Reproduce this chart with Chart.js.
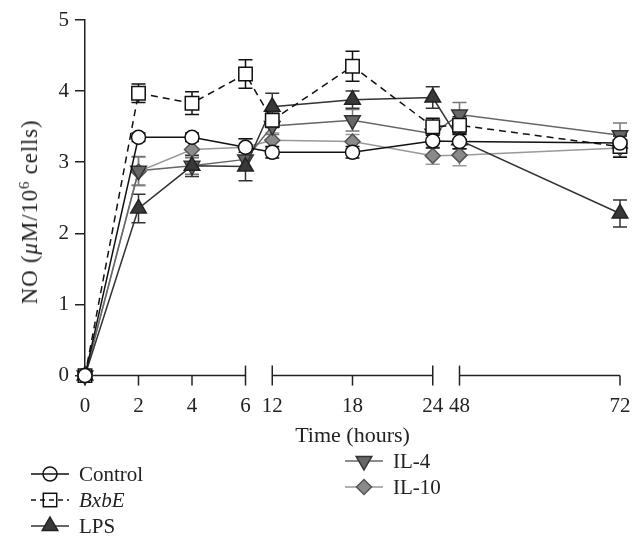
<!DOCTYPE html>
<html><head><meta charset="utf-8">
<script src="https://cdn.jsdelivr.net/npm/chart.js@4"></script>
<style>
html,body{margin:0;padding:0;background:#fff;}
#wrap{position:relative;width:643px;height:551px;overflow:hidden;font-family:"Liberation Serif",serif;color:#222;}
canvas{position:absolute;left:0;top:0;}
#ytitle{position:absolute;left:30px;top:212px;transform:translate(-50%,-50%) rotate(-90deg);white-space:nowrap;font-size:23px;line-height:26px;letter-spacing:0.8px;}
#ytitle sup{font-size:15px;line-height:0;vertical-align:8px;}
.leg{position:absolute;font-size:21px;white-space:nowrap;display:flex;align-items:center;height:26px;}
.leg svg{margin-right:9px;}
</style></head>
<body><div id="wrap"><canvas id="c" width="643" height="551"></canvas>
<div id="ytitle">NO (<i>μ</i>M/10<sup>6</sup> cells)</div>
<div id="legend"></div>
</div>
<script>
// ---- data ----
const times = [0, 2, 4, 6, 12, 18, 24, 48, 72];
const xTicks = [0, 2, 4, 6, 12, 18, 24, 48, 72];
const axisSegments = [[0, 6], [12, 24], [48, 72]];
const breakTicks = [6, 12, 24, 48];
const yTicks = [0, 1, 2, 3, 4, 5];

const seriesNames = ['Control', 'BxbE', 'LPS', 'IL-4', 'IL-10'];
const control   = [0, 3.35, 3.35, 3.21, 3.14, 3.14, 3.30, 3.29, 3.27];
const controlErr= [0, 0.06, 0.06, 0.12, 0.08, 0.08, 0.10, 0.10, 0.12];
const bxbe      = [0, 3.97, 3.83, 4.24, 3.59, 4.35, 3.50, 3.52, 3.22];
const bxbeErr   = [0, 0.13, 0.16, 0.20, 0.10, 0.21, 0.12, 0.12, 0.15];
const lps       = [0, 2.35, 2.95, 2.94, 3.78, 3.88, 3.91, 3.31, 2.28];
const lpsErr    = [0, 0.20, 0.15, 0.20, 0.19, 0.12, 0.15, 0.12, 0.19];
const il4       = [0, 2.88, 2.95, 3.04, 3.51, 3.59, 3.40, 3.67, 3.38];
const il4Err    = [0, 0.20, 0.12, 0.15, 0.12, 0.15, 0.12, 0.17, 0.17];
const il10      = [0, 2.87, 3.18, 3.21, 3.31, 3.29, 3.09, 3.10, 3.20];
const il10Err   = [0, 0.20, 0.12, 0.12, 0.10, 0.10, 0.12, 0.15, 0.12];

// ---- broken time axis mapping ----
const toAxis = t => t <= 6 ? t : (t <= 24 ? 7 + (t - 12) / 2 : 14 + (t - 48) / 4);

const FONT = {family: 'Liberation Serif', size: 21};
const styles = [
  {line:'#111', fill:'#fff', border:'#111', style:'circle', r:7, rot:0, dash:[], err:'#111'},
  {line:'#111', fill:'#fff', border:'#111', style:'rect', r:9.5, rot:0, dash:[7,5], err:'#111'},
  {line:'#333', fill:'#383838', border:'#222', style:'triangle', r:9, rot:0, dash:[], err:'#333'},
  {line:'#666', fill:'#676767', border:'#333', style:'triangle', r:9, rot:180, dash:[], err:'#777'},
  {line:'#999', fill:'#8a8a8a', border:'#555', style:'rectRot', r:7.5, rot:0, dash:[], err:'#999'}
];
const values = [control, bxbe, lps, il4, il10];
const errs = [controlErr, bxbeErr, lpsErr, il4Err, il10Err];

const datasets = seriesNames.map((n, i) => ({
  label: n,
  data: times.map((t, j) => ({x: toAxis(t), y: values[i][j]})),
  borderColor: styles[i].line,
  borderWidth: 1.5,
  borderDash: styles[i].dash,
  pointStyle: styles[i].style,
  pointRadius: styles[i].r,
  pointHoverRadius: styles[i].r,
  pointRotation: styles[i].rot,
  pointBackgroundColor: styles[i].fill,
  pointBorderColor: styles[i].border,
  pointBorderWidth: 1.5,
  tension: 0, fill: false, clip: false
}));

const errorBars = {
  id: 'errorBars',
  beforeDatasetsDraw(chart) {
    const {ctx, scales: {x, y}} = chart;
    for (let di = datasets.length - 1; di >= 0; di--) {
      ctx.save();
      ctx.strokeStyle = styles[di].err;
      ctx.lineWidth = 1.5;
      times.forEach((t, i) => {
        const e = errs[di][i];
        if (!e) return;
        const px = x.getPixelForValue(toAxis(t));
        const top = y.getPixelForValue(values[di][i] + e);
        const bot = y.getPixelForValue(values[di][i] - e);
        ctx.beginPath();
        ctx.moveTo(px, top); ctx.lineTo(px, bot);
        ctx.moveTo(px - 7, top); ctx.lineTo(px + 7, top);
        ctx.moveTo(px - 7, bot); ctx.lineTo(px + 7, bot);
        ctx.stroke();
      });
      ctx.restore();
    }
  }
};

const brokenAxis = {
  id: 'brokenAxis',
  beforeDatasetsDraw(chart) {
    const {ctx, scales: {x, y}} = chart;
    const yb = y.getPixelForValue(0);
    ctx.save();
    ctx.strokeStyle = '#222';
    ctx.lineWidth = 1.5;
    axisSegments.forEach(([a, b]) => {
      ctx.beginPath();
      ctx.moveTo(x.getPixelForValue(toAxis(a)), yb);
      ctx.lineTo(x.getPixelForValue(toAxis(b)), yb);
      ctx.stroke();
    });
    xTicks.forEach(t => {
      const px = x.getPixelForValue(toAxis(t));
      ctx.beginPath();
      ctx.moveTo(px, breakTicks.includes(t) ? yb - 10 : yb);
      ctx.lineTo(px, yb + 10);
      ctx.stroke();
    });
    ctx.restore();
  }
};

new Chart(document.getElementById('c'), {
  type: 'line',
  data: {datasets},
  options: {
    responsive: false,
    animation: false,
    events: [],
    layout: {padding: {top: 20, right: 23, bottom: 95.4, left: 0}, autoPadding: false},
    plugins: {legend: {display: false}, tooltip: {enabled: false}},
    scales: {
      x: {
        type: 'linear', min: 0, max: 20,
        afterBuildTicks: s => { s.ticks = xTicks.map(t => ({value: toAxis(t)})); },
        afterFit: s => { s.height = 80; s.paddingLeft = 0; s.paddingRight = 0; },
        ticks: {callback: (v, i) => String(xTicks[i]), font: FONT, color: '#222', padding: 18, maxRotation: 0, autoSkip: false},
        grid: {display: false, drawTicks: false},
        border: {display: false},
        title: {display: true, text: 'Time (hours)', font: {family: 'Liberation Serif', size: 22}, color: '#222', padding: {top: 0, bottom: 6}}
      },
      y: {
        min: 0, max: 5,
        afterBuildTicks: s => { s.ticks = yTicks.map(v => ({value: v})); },
        afterFit: s => { s.width = 85; s.paddingTop = 0; s.paddingBottom = 0; },
        ticks: {font: FONT, color: '#222', padding: 6},
        grid: {drawOnChartArea: false, drawTicks: true, tickLength: 10, color: '#222', lineWidth: 1.5},
        border: {display: true, color: '#222', width: 1.5}
      }
    }
  },
  plugins: [brokenAxis, errorBars]
});

// ---- HTML legend ----
const legendPos = [
  {x: 30, y: 461}, {x: 30, y: 487}, {x: 30, y: 513},
  {x: 344, y: 448}, {x: 344, y: 474}
];
const lg = document.getElementById('legend');
seriesNames.forEach((n, i) => {
  const s = styles[i];
  const cx = 20, cy = 13;
  let marker = '';
  if (s.style === 'circle') marker = `<circle cx="${cx}" cy="${cy}" r="${s.r}" fill="${s.fill}" stroke="${s.border}" stroke-width="1.5"/>`;
  else if (s.style === 'rect') { const h = s.r * Math.SQRT1_2; marker = `<rect x="${cx-h}" y="${cy-h}" width="${2*h}" height="${2*h}" fill="${s.fill}" stroke="${s.border}" stroke-width="1.5"/>`; }
  else if (s.style === 'triangle') {
    const r = s.r, sg = s.rot ? -1 : 1;
    const pts = [[cx, cy - sg*r], [cx + r*0.866, cy + sg*r/2], [cx - r*0.866, cy + sg*r/2]];
    marker = `<polygon points="${pts.map(p=>p.join(',')).join(' ')}" fill="${s.fill}" stroke="${s.border}" stroke-width="1.5"/>`;
  } else {
    const r = s.r;
    marker = `<polygon points="${cx},${cy-r} ${cx+r},${cy} ${cx},${cy+r} ${cx-r},${cy}" fill="${s.fill}" stroke="${s.border}" stroke-width="1.5"/>`;
  }
  const line = `<line x1="1" y1="${cy}" x2="39" y2="${cy}" stroke="${s.line}" stroke-width="1.5" ${s.dash.length ? 'stroke-dasharray="5,4"' : ''}/>`;
  const open = s.fill === '#fff';
  const svg = `<svg width="40" height="26">${open ? marker + line : line + marker}</svg>`;
  const label = n === 'BxbE' ? `<i>${n}</i>` : n;
  const d = document.createElement('div');
  d.className = 'leg';
  d.style.left = legendPos[i].x + 'px';
  d.style.top = legendPos[i].y + 'px';
  d.innerHTML = svg + '<span>' + label + '</span>';
  lg.appendChild(d);
});
</script>
</body></html>
